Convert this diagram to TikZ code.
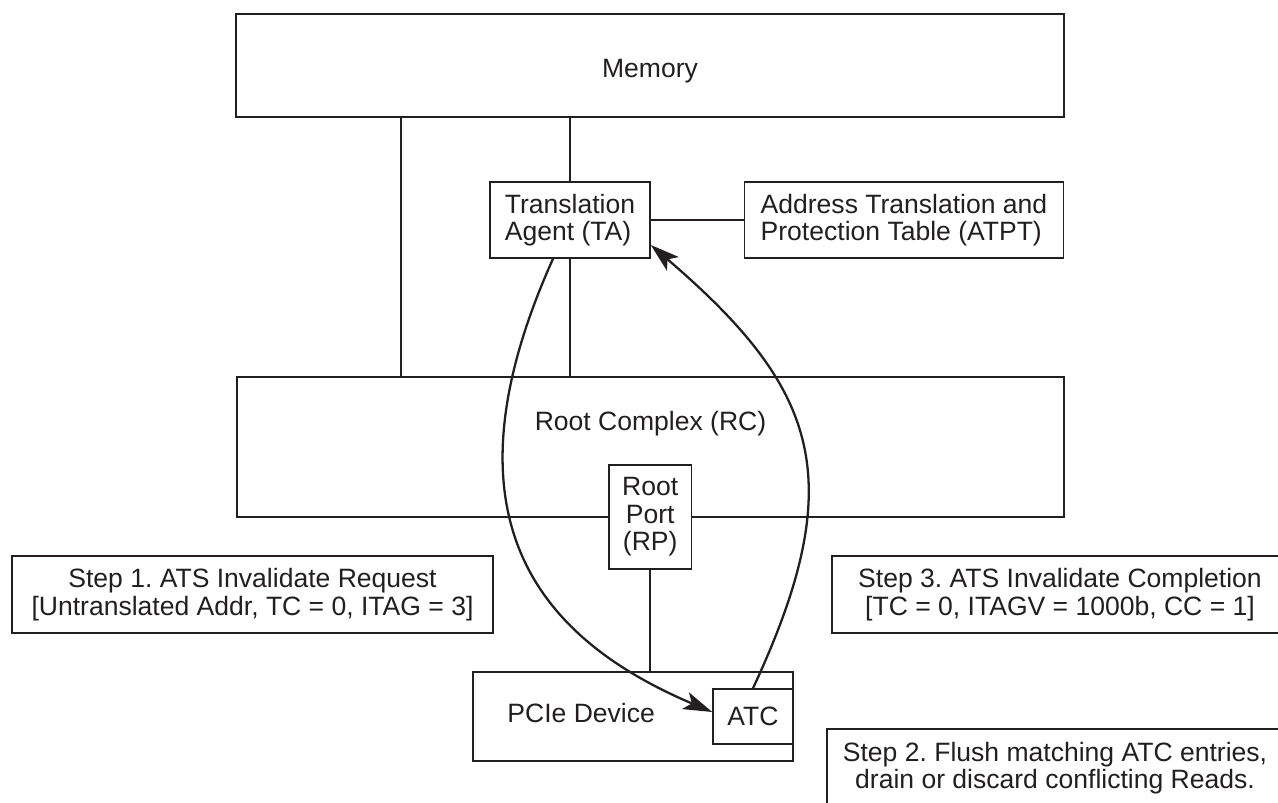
\documentclass[tikz,border=0pt]{standalone}
\usepackage{fontspec}
\setmainfont{Liberation Sans}
\usetikzlibrary{positioning,arrows.meta}
\definecolor{ink}{HTML}{231F20}
\frenchspacing

\begin{document}
\begin{tikzpicture}[x=0.02cm,y=-0.02cm,font=\fontsize{15.1pt}{15.6pt}\selectfont,text=ink,
  blk/.style={draw=ink,line width=0.9pt,fill=white,inner sep=0pt},
  leftbox/.style={blk,align=left},
  stepbox/.style={blk,align=center,minimum height=1.54cm},
  link/.style={draw=ink,line width=0.9pt},
  flow/.style={draw=ink,line width=1.3pt,-{Stealth[length=5.8mm,width=3.6mm,inset=1.4mm]}}]
  \useasboundingbox (0,0) rectangle (1278,803);
  \clip (0,0) rectangle (1278,803);

  % ---------------- host side ----------------
  \node[blk,minimum width=16.56cm,minimum height=2.06cm] (mem) at (650,65.5) {};
  \node (memlbl) at ([yshift=-0.12cm]mem.center) {Memory};
  \node[leftbox,minimum width=3.2cm,minimum height=1.52cm] (ta) at (570,220) {Translation\\Agent (TA)};
  \node[leftbox,minimum width=6.38cm,minimum height=1.52cm] (atpt) at (904,220) {Address Translation and\\Protection Table (ATPT)};
  \node[blk,minimum width=16.54cm,minimum height=2.8cm] (rc) at (650.5,447) {};
  \node (rclbl) at ([yshift=0.46cm]rc.center) {Root Complex (RC)};
  \node[blk,align=center,minimum width=1.66cm,minimum height=2.08cm] (rp) at (650.2,517) {Root\\Port\\(RP)};

  \draw[link] ([xshift=3.32cm]mem.south west) -- ([xshift=3.32cm]mem.south west |- rc.north);
  \draw[link] (ta.north) -- (ta.north |- mem.south);
  \draw[link] (ta.south) -- (ta.south |- rc.north);
  \draw[link] (ta.east) -- (atpt.west);

  % ---------------- endpoint side ----------------
  \node[blk,minimum width=6.4cm,minimum height=1.78cm] (pcie) at (633,716.5) {};
  \node[anchor=west] (pcielbl) at ([xshift=0.58cm,yshift=0.07cm]pcie.west) {PCIe Device};
  \node[blk,minimum width=1.6cm,minimum height=1.1cm] (atc) at (753,716.5) {ATC};
  \draw[link] (rp.south) -- (rp.south |- pcie.north);

  % ---------------- step notes ----------------
  \node[stepbox,minimum width=9.62cm] (step1) at (252.5,594.5)
    {Step 1. ATS Invalidate Request\\{}[Untranslated Addr, TC = 0, ITAG = 3]};
  \node[stepbox,minimum width=9.12cm] (step3) at (1060,594.5)
    {Step 3. ATS Invalidate Completion\\{}[TC = 0, ITAGV = 1000b, CC = 1]};
  \node[stepbox,minimum width=9.12cm,minimum height=1.56cm] (step2) at (1055,768)
    {Step 2. Flush matching ATC entries,\\drain or discard conflicting Reads.};

  % request down to the ATC, completion back up to the TA
  \draw[flow] ([xshift=-0.34cm]ta.south) .. controls (440,510) and (530,635) .. ([yshift=0.09cm]atc.west);
  \draw[flow] (atc.north) .. controls (850,480) and (820,390) .. ([yshift=-0.5cm]ta.east);
\end{tikzpicture}
\end{document}
